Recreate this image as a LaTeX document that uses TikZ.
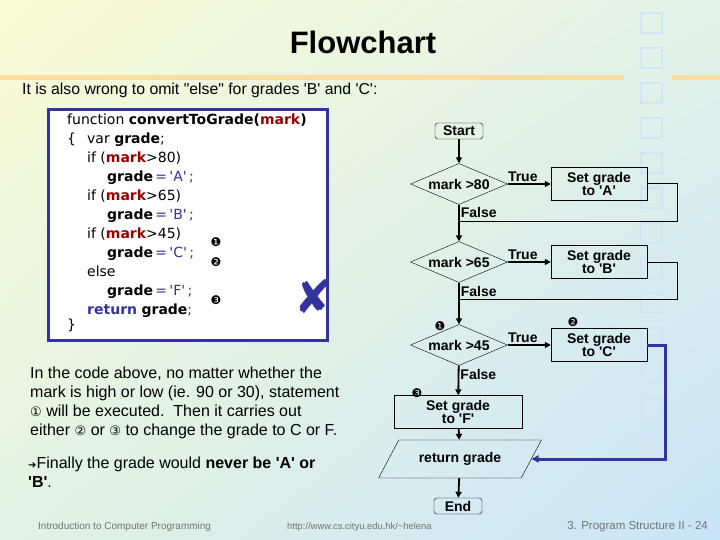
\documentclass[tikz,border=0pt]{standalone}
\usepackage{fontspec}
\setmainfont{Liberation Sans}
\newfontfamily\codefont{DejaVu Sans}
\newfontfamily\symfont{DejaVu Sans}
\usetikzlibrary{shapes.geometric, arrows.meta, positioning, shadings}

\definecolor{markred}{RGB}{153,0,0}
\definecolor{codeblue}{RGB}{51,51,160}
\definecolor{bandorange}{RGB}{250,222,160}
\definecolor{footgray}{RGB}{115,115,115}
\definecolor{sqblue}{RGB}{208,229,245}
\definecolor{bgul}{RGB}{250,251,212}
\definecolor{bgur}{RGB}{226,242,232}
\definecolor{bgll}{RGB}{226,243,228}
\definecolor{bglr}{RGB}{200,228,248}

\newcommand{\mk}{\textbf{\textcolor{markred}{mark}}}
\newcommand{\gd}{\textbf{grade}}
\newcommand{\setg}[1]{\gd\textcolor{codeblue}{\,=\,'#1'\,;}}
\newcommand{\sq}[1]{\textquotesingle#1\textquotesingle}

\begin{document}
\begin{tikzpicture}[
  x=1pt, y=-1pt,
  every node/.style={font=\fontsize{14}{14}\selectfont\bfseries},
  term/.style={draw, rounded corners=3pt, minimum width=48pt, minimum height=16pt, inner sep=0pt},
  decision/.style={draw, diamond, shape aspect=2.6, minimum width=97pt, minimum height=41pt, inner sep=0pt},
  process/.style={draw, align=center, minimum width=96pt, minimum height=33pt, inner sep=0pt,
                  font=\fontsize{14}{13}\selectfont\bfseries},
  io/.style={draw, trapezium, trapezium left angle=44, trapezium right angle=136,
             trapezium stretches=true, minimum width=163pt, minimum height=38pt, inner sep=0pt},
  flow/.style={line width=1.8pt, -{Triangle[length=6pt,width=6pt]}},
  mergeline/.style={line width=1pt},
  lbl/.style={inner sep=1pt},
  num/.style={font=\symfont\fontsize{12}{12}\selectfont},
  txt/.style={font=\fontsize{16}{19}\selectfont, align=left, inner sep=0pt},
  foot/.style={font=\fontsize{10}{10}\selectfont, text=footgray, inner sep=0pt}
]
  \useasboundingbox (0,0) rectangle (720,540);
  % background
  \shade[upper left=bgul, upper right=bgur, lower left=bgll, lower right=bglr]
    (0,0) rectangle (720,540);
  \draw[bandorange, line width=5pt] (0,78) -- (624,78) (672,78) -- (720,78);
  \foreach \k in {0,...,12}
    \draw[sqblue, line width=1.5pt] (641,13+35*\k) rectangle ++(21,20);

  % title
  \node[font=\fontsize{31}{31}\selectfont\bfseries] (title) at (363,42) {Flowchart};
  \node[txt, anchor=west, font=\fontsize{15.8}{19}\selectfont] (intro) at (22,90)
    {It is also wrong to omit \textquotedbl else\textquotedbl\ for grades \sq{B} and \sq{C}:};

  % --- code box ---
  \draw[codeblue, fill=white, line width=3pt] (48,110) rectangle (327,340);
  \node[txt, anchor=north west, font=\codefont\fontsize{14}{19}\selectfont, text=black] (code) at (67,114) {%
    function \textbf{convertToGrade(}\mk\textbf{)}\\
    \makebox[20pt][l]{\{}var \gd;\\
    \hspace*{20pt}if (\mk>80)\\
    \hspace*{40pt}\setg{A}\\
    \hspace*{20pt}if (\mk>65)\\
    \hspace*{40pt}\setg{B}\\
    \hspace*{20pt}if (\mk>45)\\
    \hspace*{40pt}\setg{C}\\
    \hspace*{20pt}else\\
    \hspace*{40pt}\setg{F}\\
    \hspace*{20pt}\textbf{\textcolor{codeblue}{return}} \gd\textcolor{codeblue}{;}\\[-4pt]
    \}};
  \node[num] (c1) at (216,242) {❶};
  \node[num] (c2) at (216,262) {❷};
  \node[num] (c3) at (216,300) {❸};
  \node[font=\symfont\fontsize{46}{46}\selectfont, text=codeblue] (wrong) at (314,296) {✘};

  % --- flowchart ---
  \node[term] (start) at (459,131) {Start};
  \node[decision] (d80) at (459,184) {mark >80};
  \node[process] (bA) at (599,184) {Set grade\\to \sq{A}};
  \node[decision] (d65) at (459,262) {mark >65};
  \node[process] (bB) at (599,262) {Set grade\\to \sq{B}};
  \node[decision] (d45) at (459,345) {mark >45};
  \node[process] (bC) at (599,345) {Set grade\\to \sq{C}};
  \node[process, minimum width=128pt] (bF) at (458,412) {Set grade\\to \sq{F}};
  \node[io] (ret) at (460,459) {return grade};
  \node[term] (end) at (458,506) {End};
  \node[num] (f1) at (440,326) {❶};
  \node[num] (f2) at (573,322) {❷};
  \node[num] (f3) at (417,393) {❸};
  \coordinate (jA) at (459,222);
  \coordinate (jB) at (459,299);

  \draw[flow] (start) -- (d80);
  \draw[flow] (d80) -- node[lbl, above, pos=.35] {True} (bA);
  \draw[flow] (d80) -- node[lbl, right, pos=.2] {False} (d65);
  \draw[flow] (d65) -- node[lbl, above, pos=.35] {True} (bB);
  \draw[flow] (d65) -- node[lbl, right, pos=.2] {False} (d45);
  \draw[flow] (d45) -- node[lbl, above, pos=.35] {True} (bC);
  \draw[flow] (d45) -- node[lbl, right, pos=.3] {False} (bF);
  \draw[flow] (bF) -- (ret);
  \draw[flow] (ret) -- (end);
  \draw[mergeline] (bA.east) -- ++(30,0) |- (jA);
  \draw[mergeline] (bB.east) -- ++(30,0) |- (jB);
  \draw[codeblue, line width=3pt, -{Triangle[length=7pt,width=7pt]}] (bC.east) -- ++(18,0) |- (ret.east);

  % --- notes ---
  \node[txt, anchor=north west] (note) at (30,367) {In the code above, no matter whether the\\
    mark is high or low (ie. 90 or 30), statement\\
    {\symfont\fontsize{13}{13}\selectfont ①} will be executed.\ \ Then it carries out\\
    either {\symfont\fontsize{13}{13}\selectfont ②} or {\symfont\fontsize{13}{13}\selectfont ③} to change the grade to C or F.};
  \node[txt, anchor=north west] (final) at (28,457) {{\symfont\fontsize{10}{10}\selectfont ➔}Finally the grade would \textbf{never be \sq{A} or}\\
    \textbf{\sq{B}}.};

  % footer
  \node[foot, anchor=west] (ft1) at (38,527) {Introduction to Computer Programming};
  \node[foot, anchor=west, font=\fontsize{9.4}{10}\selectfont] (ft2) at (287,527) {http://www.cs.cityu.edu.hk/\textasciitilde helena};
  \node[foot, anchor=east, font=\fontsize{11.5}{10}\selectfont] (ft3) at (708,527) {3. Program Structure II - 24};
\end{tikzpicture}
\end{document}
